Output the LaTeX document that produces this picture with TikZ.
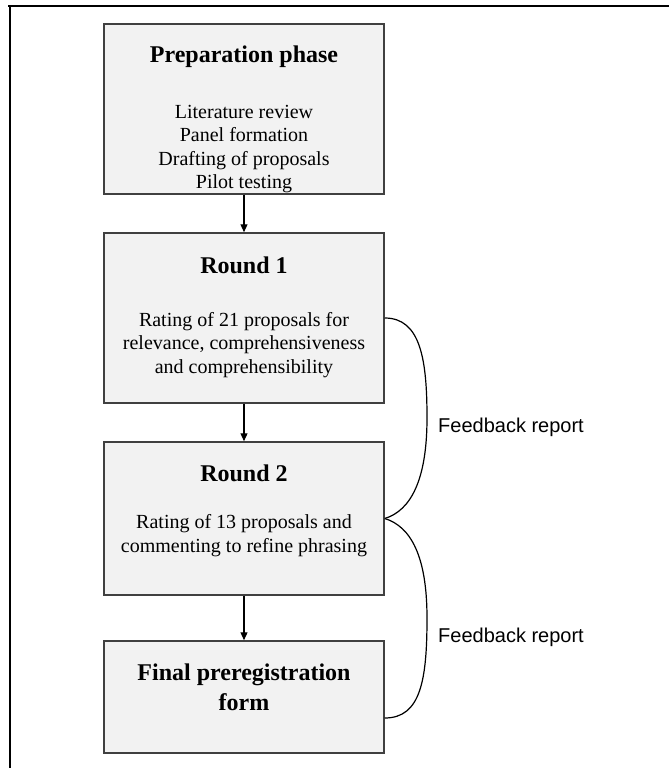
\documentclass[tikz,border=0pt]{standalone}
\usepackage{fontspec}
\setmainfont{Liberation Serif}
\newfontfamily\sansf{Liberation Sans}
\usetikzlibrary{calc,arrows.meta}
\definecolor{boxfill}{HTML}{F2F2F2}
\definecolor{boxline}{HTML}{404040}
\begin{document}
\begin{tikzpicture}[x=1pt,y=-1pt,
  box/.style={draw=boxline, fill=boxfill, line width=1.5pt, minimum width=280pt, inner sep=0pt},
  ttl/.style={font=\fontsize{24}{30}\selectfont\bfseries, align=center, inner sep=0pt},
  body/.style={font=\fontsize{20}{23.5}\selectfont, align=center, inner sep=0pt},
  fb/.style={font=\sansf\fontsize{20}{24}\selectfont, anchor=west, inner sep=0pt},
  arr/.style={-{Triangle[length=8pt,width=7pt]}, line width=1.2pt, draw=black},
  fbline/.style={line width=1.2pt, draw=black}]
\useasboundingbox (0,0) rectangle (669,768);
\draw[line width=2pt] (8,6.5) -- (669,6.5);
\draw[line width=2pt] (10,5.5) -- (10,768);

\node[box, minimum height=170pt] (prep) at (244,109) {};
\node[box, minimum height=170pt] (r1) at (244,318) {};
\node[box, minimum height=153pt] (r2) at (244,518.5) {};
\node[box, minimum height=112pt] (fin) at (244,697) {};

\node[ttl] (prept) at (244,57) {Preparation phase};
\node[body] (prepb) at (244,149) {Literature review\\Panel formation\\Drafting of proposals\\Pilot testing};
\node[ttl] (r1t) at (244,265) {Round 1};
\node[body] (r1b) at (244,345) {Rating of 21 proposals for\\relevance, comprehensiveness\\and comprehensibility};
\node[ttl] (r2t) at (244,473) {Round 2};
\node[body] (r2b) at (244,535.5) {Rating of 13 proposals and\\commenting to refine phrasing};
\node[ttl] (fint) at (244,687) {Final preregistration\\form};

\draw[arr] (prep.south) -- (r1.north);
\draw[arr] (r1.south) -- (r2.north);
\draw[arr] (r2.south) -- (fin.north);

\coordinate (c1) at (427,418);
\coordinate (c2) at (427,618);
\coordinate (f1) at ($(fin.east)+(0,21)$);
\draw[fbline] (r1.east) .. controls +(36,0) and +(0,-58) .. (c1)
  .. controls +(0,62) and +(26,-8) .. (r2.east);
\draw[fbline] (r2.east) .. controls +(26,8) and +(0,-62) .. (c2)
  .. controls +(0,62) and +(36,0) .. (f1);

\node[fb] (fb1) at (438,427) {Feedback report};
\node[fb] (fb2) at (438,637) {Feedback report};
\end{tikzpicture}
\end{document}
